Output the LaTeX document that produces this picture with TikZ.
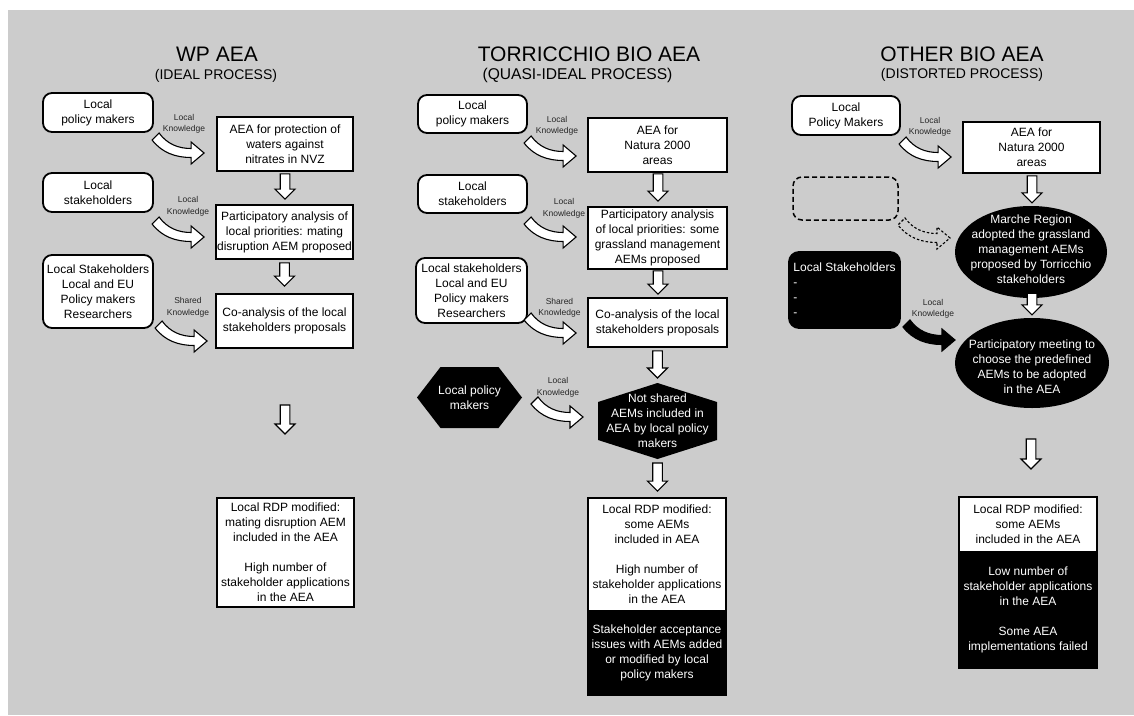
\documentclass[tikz,border=0pt]{standalone}
\usepackage{fontspec}
\setmainfont{Liberation Sans}
\usetikzlibrary{calc,shapes.geometric}

\definecolor{panelgray}{RGB}{204,204,204}
\newcommand\txtbody{\fontsize{12}{15}\selectfont}
\newcommand\txtsmall{\fontsize{8.5}{11.5}\selectfont}
\newcommand\txthead{\fontsize{21}{25}\selectfont}
\newcommand\txtsubhead{\fontsize{14}{17}\selectfont}

% hollow block arrow pointing down, from #1 to #2
\newcommand\blockdrop[2]{%
  \draw[droparrow] let \p1=(#1), \p2=(#2) in
    (\x1-4.8pt,\y1) -- (\x1+4.8pt,\y1) -- (\x1+4.8pt,\y2+10pt) -- (\x1+10pt,\y2+10pt)
    -- (\x1,\y2) -- (\x1-10pt,\y2+10pt) -- (\x1-4.8pt,\y2+10pt) -- cycle;}

\tikzset{
  heading/.style={font=\txthead, inner sep=0pt},
  subheading/.style={font=\txtsubhead, inner sep=0pt},
  kbox/.style={font=\txtsmall, align=center, inner sep=0pt, text=black!85},
  plainbox/.style={draw=black, line width=1.8pt, fill=white, font=\txtbody, align=center, inner sep=0pt},
  actor/.style={plainbox, rounded corners=9pt},
  darkbox/.style={draw=black, line width=1.8pt, fill=black, text=white, font=\txtbody, align=center, inner sep=0pt},
  ghostbox/.style={draw=black, line width=1.5pt, dash pattern=on 5pt off 3pt, rounded corners=9pt},
  darktext/.style={text=white, font=\txtbody, align=center, inner sep=0pt},
  droparrow/.style={draw=black, fill=white, line width=1.1pt, line join=miter},
  hollowbend/.style={draw=black, fill=white, line width=1.1pt},
  solidbend/.style={draw=black, fill=black, line width=1.1pt},
  ghostbend/.style={draw=black, line width=1.1pt, dash pattern=on 2.5pt off 2pt},
  % curved block arrow, tip at the origin, tail up and to the left
  bentarrow/.pic={
    \path[pic actions]
      (-13,4.5) .. controls (-28,4.5) and (-42,0) .. (-52,-13)
      -- (-45,-20) .. controls (-37,-9) and (-26,-4.5) .. (-13,-4.5)
      -- (-13,-11) -- (0,0) -- (-13,11) -- cycle;
  }
}

\begin{document}
\begin{tikzpicture}[x=1pt,y=-1pt]
\useasboundingbox (0,0) rectangle (1134,715);
\fill[panelgray] (8,10) rectangle (1134,715);

% ---------------- WP AEA ----------------
\node[heading] (t1) at (217,54) {WP AEA};
\node[subheading] (s1) at (216,76) {(IDEAL PROCESS)};

\node[actor, minimum width=110, minimum height=39] (lpm1) at (98,112.5) {Local\\policy makers};
\node[plainbox, minimum width=136, minimum height=54] (aea1) at (285,144) {AEA for protection of\\waters against\\nitrates in NVZ};
\node[actor, minimum width=110, minimum height=39] (ls1) at (98,192.5) {Local\\stakeholders};
\node[plainbox, minimum width=137, minimum height=54] (pa1) at (284.5,232) {Participatory analysis of\\local priorities: mating\\disruption AEM proposed};
\node[actor, minimum width=110, minimum height=73] (lsx1) at (98,291.5) {Local Stakeholders\\Local and EU\\Policy makers\\Researchers};
\node[plainbox, minimum width=137, minimum height=54] (ca1) at (284.5,321) {Co-analysis of the local\\stakeholders proposals};
\node[plainbox, minimum width=137, minimum height=109] (rdp1) at (285.5,552.5) {Local RDP modified:\\mating disruption AEM\\included in the AEA\\[15pt]High number of\\stakeholder applications\\in the AEA};

\node[kbox] (k1) at (184,124) {Local\\Knowledge};
\node[kbox] (k2) at (188,206.5) {Local\\Knowledge};
\node[kbox] (k3) at (188,307.5) {Shared\\Knowledge};
\pic[hollowbend] at ($(aea1.west)+(-12,9)$) {bentarrow};
\pic[hollowbend] at ($(pa1.west)+(-11,5)$) {bentarrow};
\pic[hollowbend] at ($(ca1.west)+(-8,20)$) {bentarrow};

\coordinate (gap1a) at (285,405);
\coordinate (gap1b) at (285,434);
\blockdrop{$(aea1.south)+(0,2)$}{$(pa1.north)+(0.5,-5)$}
\blockdrop{$(pa1.south)+(0,3)$}{$(ca1.north)+(0,-7)$}
\blockdrop{gap1a}{gap1b}

% ---------------- TORRICCHIO BIO AEA ----------------
\node[heading] (t2) at (589,54) {TORRICCHIO BIO AEA};
\node[subheading, font=\fontsize{15.6}{18}\selectfont] (s2) at (577.5,75) {(QUASI-IDEAL PROCESS)};

\node[actor, minimum width=109, minimum height=38] (lpm2) at (472.5,114) {Local\\policy makers};
\node[plainbox, minimum width=139, minimum height=54] (aea2) at (657.5,145) {AEA for\\Natura 2000\\areas};
\node[actor, minimum width=109, minimum height=38] (ls2) at (472.5,194) {Local\\stakeholders};
\node[plainbox, minimum width=139, minimum height=62] (pa2) at (657.5,238) {Participatory analysis\\of local priorities: some\\grassland management\\AEMs proposed};
\node[actor, minimum width=111, minimum height=65] (lsx2) at (471.5,290.5) {Local stakeholders\\Local and EU\\Policy makers\\Researchers};
\node[plainbox, minimum width=139, minimum height=49] (ca2) at (657.5,322.5) {Co-analysis of the local\\stakeholders proposals};

% black hexagon: local policy makers
\coordinate (hex1) at (469.5,397.5);
\fill[black] ($(hex1)+(-52.5,0)$) -- ($(hex1)+(-29,-30.5)$) -- ($(hex1)+(29,-30.5)$)
  -- ($(hex1)+(52.5,0)$) -- ($(hex1)+(29,30.5)$) -- ($(hex1)+(-29,30.5)$) -- cycle;
\node[darktext] (hex1t) at (hex1) {Local policy\\makers};

% black hexagon: AEMs not shared
\coordinate (hex2) at (657.5,421);
\coordinate (hex2n) at ($(hex2)+(0,-38)$);
\coordinate (hex2s) at ($(hex2)+(0,38)$);
\fill[black] (hex2n) -- ($(hex2)+(-59.5,-19)$) -- ($(hex2)+(-59.5,19)$)
  -- (hex2s) -- ($(hex2)+(59.5,19)$) -- ($(hex2)+(59.5,-19)$) -- cycle;
\node[darktext] (hex2t) at (hex2) {Not shared\\AEMs included in\\AEA by local policy\\makers};

\node[plainbox, minimum width=138, minimum height=113] (rdp2a) at (657,554.5) {Local RDP modified:\\some AEMs\\included in AEA\\[15pt]High number of\\stakeholder applications\\in the AEA};
\node[darkbox, minimum width=138, minimum height=84] (rdp2b) at (657,653) {Stakeholder acceptance\\issues with AEMs added\\or modified by local\\policy makers};

\node[kbox] (k4) at (557,126) {Local\\Knowledge};
\node[kbox] (k5) at (564,208.5) {Local\\Knowledge};
\node[kbox] (k6) at (559.5,308) {Shared\\Knowledge};
\node[kbox] (k7) at (558,387.5) {Local\\Knowledge};
\pic[hollowbend] at ($(aea2.west)+(-11,11)$) {bentarrow};
\pic[hollowbend] at ($(pa2.west)+(-11,-1)$) {bentarrow};
\pic[hollowbend] at ($(ca2.west)+(-11,10.5)$) {bentarrow};
\pic[hollowbend] at ($(hex2)+(-74.5,-4)$) {bentarrow};

\blockdrop{$(aea2.south)+(0.5,1)$}{$(pa2.north)+(0.5,-5)$}
\blockdrop{$(pa2.south)+(0.5,1)$}{$(ca2.north)+(0.5,-3)$}
\blockdrop{$(ca2.south)+(0,3)$}{$(hex2n)+(0,-5)$}
\blockdrop{$(hex2s)+(0,4)$}{$(rdp2a.north)+(0,-6)$}

% ---------------- OTHER BIO AEA ----------------
\node[heading] (t3) at (962,54) {OTHER BIO AEA};
\node[subheading] (s3) at (962,75) {(DISTORTED PROCESS)};

\node[actor, minimum width=108, minimum height=39] (lpm3) at (846,115.5) {Local\\Policy Makers};
\node[plainbox, minimum width=137, minimum height=51] (aea3) at (1031.5,147.5) {AEA for\\Natura 2000\\areas};
\node[ghostbox, minimum width=105, minimum height=43] (void3) at (845.5,198.5) {};
\node[ellipse, fill=black, minimum width=152, minimum height=92, inner sep=0pt] (ell1) at (1031,252) {};
\node[darktext] (ell1t) at (1031,249) {Marche Region\\adopted the grassland\\management AEMs\\proposed by Torricchio\\stakeholders};
\node[darkbox, rounded corners=10pt, align=left, minimum width=111, minimum height=76] (ls3) at (844.5,290) {Local Stakeholders\\-\\-\\-};
\node[ellipse, fill=black, minimum width=154, minimum height=90, inner sep=0pt] (ell2) at (1032,363) {};
\node[darktext] (ell2t) at (1032,367) {Participatory meeting to\\choose the predefined\\AEMs to be adopted\\in the AEA};

\node[plainbox, minimum width=138, minimum height=55] (rdp3a) at (1028,524.5) {Local RDP modified:\\some AEMs\\included in the AEA};
\node[darkbox, minimum width=138, minimum height=116] (rdp3b) at (1028,610) {Low number of\\stakeholder applications\\in the AEA\\[15pt]Some AEA\\implementations failed};

\node[kbox] (k8) at (930,127) {Local\\Knowledge};
\node[kbox] (k9) at (933,309) {Local\\Knowledge};
\pic[hollowbend] at ($(aea3.west)+(-11,9.5)$) {bentarrow};
\pic[ghostbend] at ($(ell1)+(-81,-14)$) {bentarrow};
\pic[solidbend] at ($(ell2)+(-77,-23)$) {bentarrow};

\coordinate (gap3a) at (1031,439);
\coordinate (gap3b) at (1031,469);
\blockdrop{$(aea3.south)+(0.5,2)$}{$(ell1.north)+(1,-3)$}
\blockdrop{$(ell1.south)+(1,-5)$}{$(ell2.north)+(0,-3)$}
\blockdrop{gap3a}{gap3b}
\end{tikzpicture}
\end{document}
